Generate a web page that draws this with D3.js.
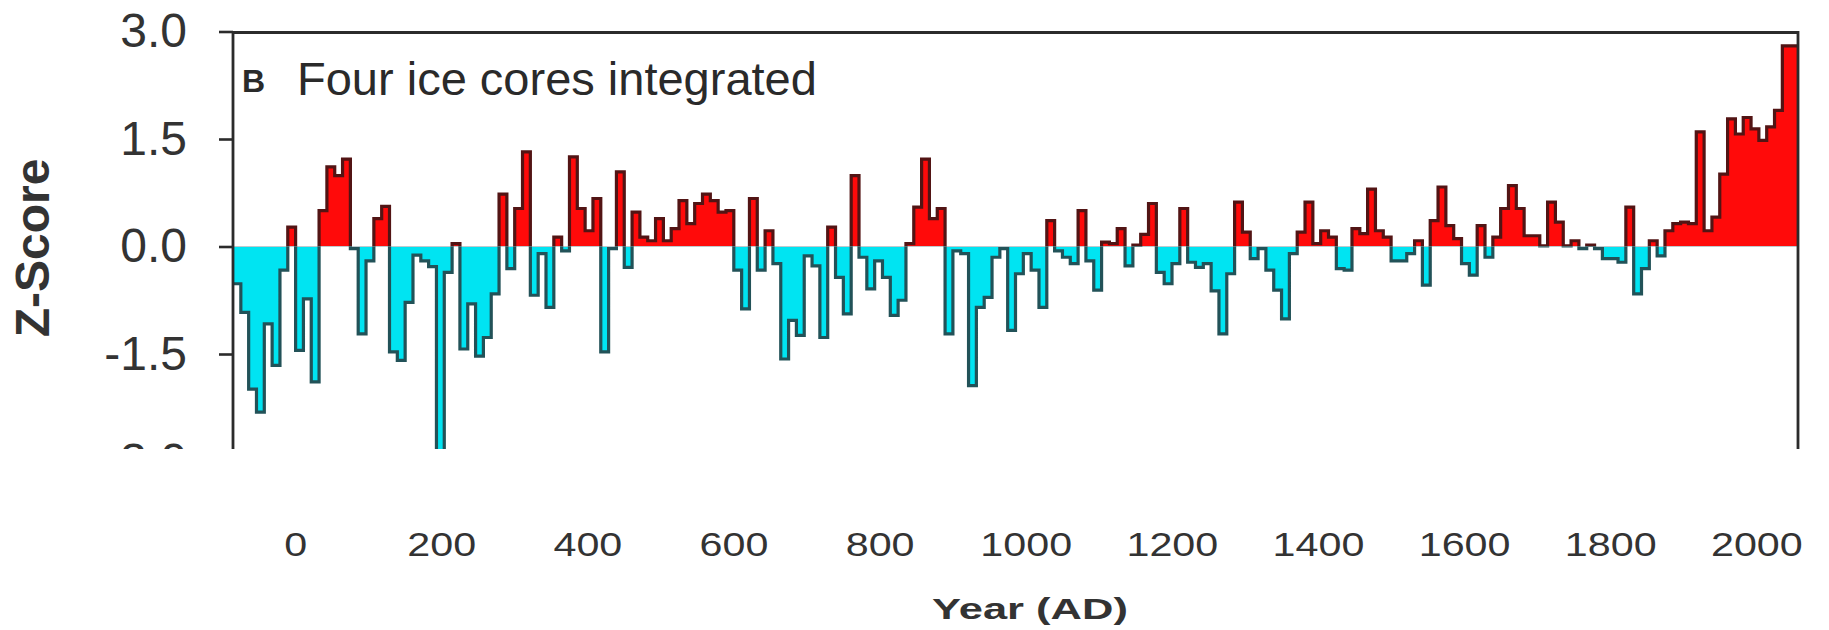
<!DOCTYPE html>
<html>
<head>
<meta charset="utf-8">
<script src="https://cdn.jsdelivr.net/npm/d3@7"></script>
<style>
    body { margin: 0; background: #fff; }
    svg { display: block; }
    text { font-family: "Liberation Sans", Arial, sans-serif; }
</style>
</head>
<body>
<svg id="chart"></svg>
<script>
// Z-score of the integrated record, one value per step, read left to right
const zScores = [
    -0.52, -0.92, -1.99, -2.31, -1.08, -1.66, -0.33, 0.27, -1.45, -0.73,
    -1.89, 0.50, 1.11, 0.99, 1.22, -0.03, -1.22, -0.20, 0.39, 0.56,
    -1.47, -1.59, -0.78, -0.12, -0.20, -0.28, -3.05, -0.36, 0.04, -1.43,
    -0.80, -1.53, -1.27, -0.66, 0.73, -0.31, 0.53, 1.32, -0.68, -0.10,
    -0.85, 0.13, -0.06, 1.25, 0.53, 0.22, 0.67, -1.47, -0.03, 1.04,
    -0.29, 0.48, 0.13, 0.08, 0.39, 0.08, 0.25, 0.64, 0.32, 0.60,
    0.73, 0.64, 0.48, 0.50, -0.33, -0.87, 0.67, -0.33, 0.22, -0.24,
    -1.57, -1.03, -1.24, -0.13, -0.27, -1.27, 0.27, -0.43, -0.94, 0.99,
    -0.15, -0.59, -0.20, -0.43, -0.96, -0.75, 0.04, 0.55, 1.22, 0.39,
    0.53, -1.22, -0.06, -0.10, -1.94, -0.85, -0.71, -0.15, -0.03, -1.17,
    -0.38, -0.10, -0.33, -0.85, 0.36, -0.06, -0.15, -0.24, 0.50, -0.20,
    -0.61, 0.06, 0.04, 0.25, -0.27, 0.02, 0.17, 0.60, -0.36, -0.52,
    -0.24, 0.53, -0.22, -0.29, -0.24, -0.62, -1.22, -0.38, 0.62, 0.20,
    -0.17, -0.03, -0.33, -0.61, -1.01, -0.10, 0.20, 0.62, 0.04, 0.22,
    0.13, -0.31, -0.33, 0.25, 0.18, 0.80, 0.22, 0.13, -0.20, -0.20,
    -0.10, 0.08, -0.54, 0.36, 0.83, 0.29, 0.11, -0.24, -0.40, 0.29,
    -0.15, 0.13, 0.53, 0.85, 0.53, 0.15, 0.15, 0.01, 0.62, 0.34,
    0.01, 0.08, -0.03, 0.02, -0.03, -0.17, -0.17, -0.22, 0.55, -0.66,
    -0.31, 0.08, -0.13, 0.22, 0.32, 0.34, 0.32, 1.60, 0.22, 0.41,
    1.01, 1.78, 1.57, 1.80, 1.64, 1.48, 1.67, 1.90, 2.80, 2.80
];

// years at the left and right edge of the plot, as the year labels place them
const firstYear = -85;
const lastYear = 2057;

const yTicks = [-3.0, -1.5, 0.0, 1.5, 3.0];
const xTicks = [0, 200, 400, 600, 800, 1000, 1200, 1400, 1600, 1800, 2000];

const titleLetter = "B";
const title = "Four ice cores integrated";
const yLabel = "Z-Score";
const xLabel = "Year (AD)";

const width = 1829;
const height = 630;
const plotLeft = 233;
const plotRight = 1798;
const plotTop = 32.5;
const cutBottom = 449; // the picture is cut off here

const svg = d3.select("#chart")
    .attr("width", width)
    .attr("height", height);

// We create the scales
const x = d3.scaleLinear()
    .domain([firstYear, lastYear])
    .range([plotLeft, plotRight]);

const y = d3.scaleLinear()
    .domain([-3, 3])
    .range([461.5, 31.5]);

// step points, one per value, plus the closing edge
const step = (lastYear - firstYear) / zScores.length;
const points = zScores.map((v, i) => [firstYear + i * step, v]);
points.push([lastYear, zScores[zScores.length - 1]]);

const defs = svg.append("defs");
defs.append("clipPath").attr("id", "cut")
    .append("rect").attr("x", 0).attr("y", 0).attr("width", width).attr("height", cutBottom);
defs.append("clipPath").attr("id", "above")
    .append("rect").attr("x", plotLeft).attr("y", 0)
    .attr("width", plotRight - plotLeft).attr("height", y(0));
defs.append("clipPath").attr("id", "below")
    .append("rect").attr("x", plotLeft).attr("y", y(0))
    .attr("width", plotRight - plotLeft).attr("height", cutBottom - y(0));

const chart = svg.append("g").attr("clip-path", "url(#cut)");

const area = d3.area()
    .curve(d3.curveStepAfter)
    .x(d => x(d[0]))
    .y0(y(0))
    .y1(d => y(d[1]));

const line = d3.line()
    .curve(d3.curveStepAfter)
    .x(d => x(d[0]))
    .y(d => y(d[1]));

// red above zero, cyan below
const halves = [
    { clip: "above", fill: "#ff0a0a", stroke: "#521414" },
    { clip: "below", fill: "#00e4f2", stroke: "#225258" }
];

halves.forEach(h => {
    const g = chart.append("g").attr("clip-path", `url(#${h.clip})`);
    g.append("path")
        .datum(points)
        .attr("d", area)
        .attr("fill", h.fill);
    g.append("path")
        .datum(points)
        .attr("d", line)
        .attr("fill", "none")
        .attr("stroke", h.stroke)
        .attr("stroke-width", 3.2)
        .attr("stroke-linejoin", "miter");
});

// the frame: top, left and right, no bottom since it is cut
chart.append("path")
    .attr("d", `M${plotLeft},${cutBottom + 5}V${plotTop}H${plotRight}V${cutBottom + 5}`)
    .attr("fill", "none")
    .attr("stroke", "#2b2b2b")
    .attr("stroke-width", 2.8);

// y axis
const yAxis = chart.append("g")
    .attr("transform", `translate(${plotLeft},0)`)
    .call(d3.axisLeft(y)
        .tickValues(yTicks)
        .tickFormat(d => d.toFixed(1))
        .tickSizeInner(14)
        .tickSizeOuter(0)
        .tickPadding(32));
yAxis.select(".domain").remove();
yAxis.selectAll(".tick line").attr("stroke", "#2b2b2b").attr("stroke-width", 2.6);
yAxis.selectAll(".tick text")
    .attr("fill", "#333")
    .style("font-size", "48px");

// y label
svg.append("text")
    .attr("transform", "translate(49,248) rotate(-90)")
    .attr("text-anchor", "middle")
    .attr("fill", "#333")
    .style("font-size", "48px")
    .style("font-weight", "bold")
    .text(yLabel);

// panel title
chart.append("text")
    .attr("x", 242)
    .attr("y", 92)
    .attr("fill", "#2a2a2a")
    .style("font-size", "32px")
    .style("font-weight", "bold")
    .text(titleLetter);
chart.append("text")
    .attr("x", 297)
    .attr("y", 95)
    .attr("fill", "#2a2a2a")
    .style("font-size", "47px")
    .text(title);

// x axis labels, no ticks and no line
const xAxis = svg.append("g")
    .attr("transform", "translate(0,533)")
    .call(d3.axisBottom(x)
        .tickValues(xTicks)
        .tickFormat(d => String(d))
        .tickSize(0)
        .tickPadding(0));
xAxis.select(".domain").remove();
xAxis.selectAll(".tick text")
    .attr("fill", "#333")
    .attr("transform", "scale(1.25,1)")
    .style("font-size", "33px");

// x label
svg.append("text")
    .attr("transform", "translate(1030,619) scale(1.45,1)")
    .attr("text-anchor", "middle")
    .attr("fill", "#333")
    .style("font-size", "30px")
    .style("font-weight", "bold")
    .text(xLabel);
</script>
</body>
</html>
